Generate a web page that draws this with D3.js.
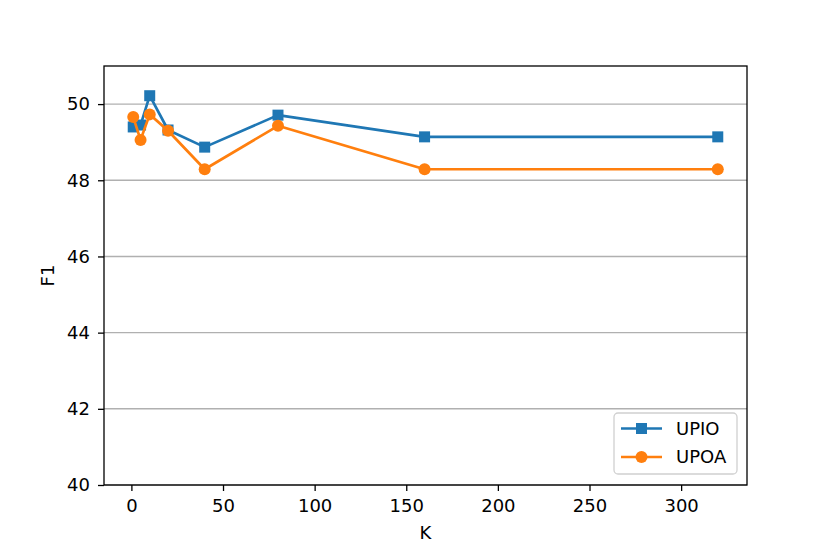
<!DOCTYPE html>
<html>
<head>
<meta charset="utf-8">
<script src="https://cdn.jsdelivr.net/npm/d3@7"></script>
<style>
  body { margin: 0; background: #fff; }
  text { font-family: "DejaVu Sans", sans-serif; }
</style>
</head>
<body>
<div id="chart-area"></div>
<script>
// values
var kValues = [1, 5, 10, 20, 40, 80, 160, 320];
var upio = [49.40, 49.45, 50.22, 49.32, 48.87, 49.71, 49.14, 49.14];
var upoa = [49.66, 49.06, 49.73, 49.30, 48.29, 49.43, 48.29, 48.29];
var xTicks = [0, 50, 100, 150, 200, 250, 300];
var yTicks = [40, 42, 44, 46, 48, 50];

var W = 830, H = 554;
var margin = {top: 66, right: 83, bottom: 69, left: 104};
var width = W - margin.left - margin.right;
var height = H - margin.top - margin.bottom;

var x = d3.scaleLinear().domain([-14.95, 335.95]).range([0, width]);
var y = d3.scaleLinear().domain([40, 51]).range([height, 0]);

var svg = d3.select("#chart-area")
  .append("svg")
  .attr("width", W)
  .attr("height", H);

var g = svg.append("g")
  .attr("transform", "translate(" + margin.left + ", " + margin.top + ")");

// horizontal grid
g.append("g")
  .selectAll("line")
  .data(yTicks)
  .enter()
  .append("line")
  .attr("x1", 0)
  .attr("x2", width)
  .attr("y1", d => y(d))
  .attr("y2", d => y(d))
  .attr("stroke", "#b0b0b0")
  .attr("stroke-width", 1.4);

var xAxis = d3.axisBottom(x).tickValues(xTicks).tickSize(6).tickPadding(8).tickFormat(d3.format("d"));
var yAxis = d3.axisLeft(y).tickValues(yTicks).tickSize(6).tickPadding(8).tickFormat(d3.format("d"));

var xg = g.append("g").attr("transform", "translate(0, " + height + ")").call(xAxis);
var yg = g.append("g").call(yAxis);
[xg, yg].forEach(function(a) {
  a.select(".domain").remove();
  a.selectAll("line").attr("stroke", "#000").attr("stroke-width", 1.3);
  a.selectAll("text").attr("font-size", "18px").attr("fill", "#000")
    .style("font-family", "DejaVu Sans, sans-serif");
});

// frame
g.append("rect")
  .attr("width", width)
  .attr("height", height)
  .attr("fill", "none")
  .attr("stroke", "#000")
  .attr("stroke-width", 1.3);

var series = [
  {name: "UPIO", values: upio, color: "#1f77b4", marker: "square"},
  {name: "UPOA", values: upoa, color: "#ff7f0e", marker: "circle"}
];

var line = d3.line().x(d => x(d[0])).y(d => y(d[1]));

function drawMarker(sel, s, cx, cy) {
  if (s.marker === "square") {
    sel.append("rect")
      .attr("x", cx - 5.5).attr("y", cy - 5.5)
      .attr("width", 11).attr("height", 11)
      .attr("fill", s.color);
  } else {
    sel.append("circle")
      .attr("cx", cx).attr("cy", cy).attr("r", 6)
      .attr("fill", s.color);
  }
}

series.forEach(function(s) {
  var pts = kValues.map((k, i) => [k, s.values[i]]);
  var sg = g.append("g");
  sg.append("path")
    .datum(pts)
    .attr("d", line)
    .attr("fill", "none")
    .attr("stroke", s.color)
    .attr("stroke-width", 2.7)
    .attr("stroke-linejoin", "round")
    .attr("stroke-linecap", "square");
  pts.forEach(p => drawMarker(sg, s, x(p[0]), y(p[1])));
});

// axis labels
g.append("text")
  .attr("x", width / 2)
  .attr("y", height + 54)
  .attr("text-anchor", "middle")
  .attr("font-size", "18px")
  .text("K");

g.append("text")
  .attr("transform", "translate(" + (-50) + ", " + (height / 2) + ") rotate(-90)")
  .attr("text-anchor", "middle")
  .attr("font-size", "18px")
  .text("F1");

// legend
var lg = svg.append("g").attr("transform", "translate(614, 413)");
lg.append("rect")
  .attr("width", 123).attr("height", 61)
  .attr("rx", 4)
  .attr("fill", "#fff").attr("fill-opacity", 0.8)
  .attr("stroke", "#d0d0d0").attr("stroke-width", 1.3);

series.forEach(function(s, i) {
  var ly = 15.5 + i * 28.5;
  lg.append("line")
    .attr("x1", 7).attr("x2", 48)
    .attr("y1", ly).attr("y2", ly)
    .attr("stroke", s.color).attr("stroke-width", 2.7);
  drawMarker(lg, s, 27.5, ly);
  lg.append("text")
    .attr("x", 62).attr("y", ly)
    .attr("dy", "0.35em")
    .attr("font-size", "18px")
    .text(s.name);
});
</script>
</body>
</html>
